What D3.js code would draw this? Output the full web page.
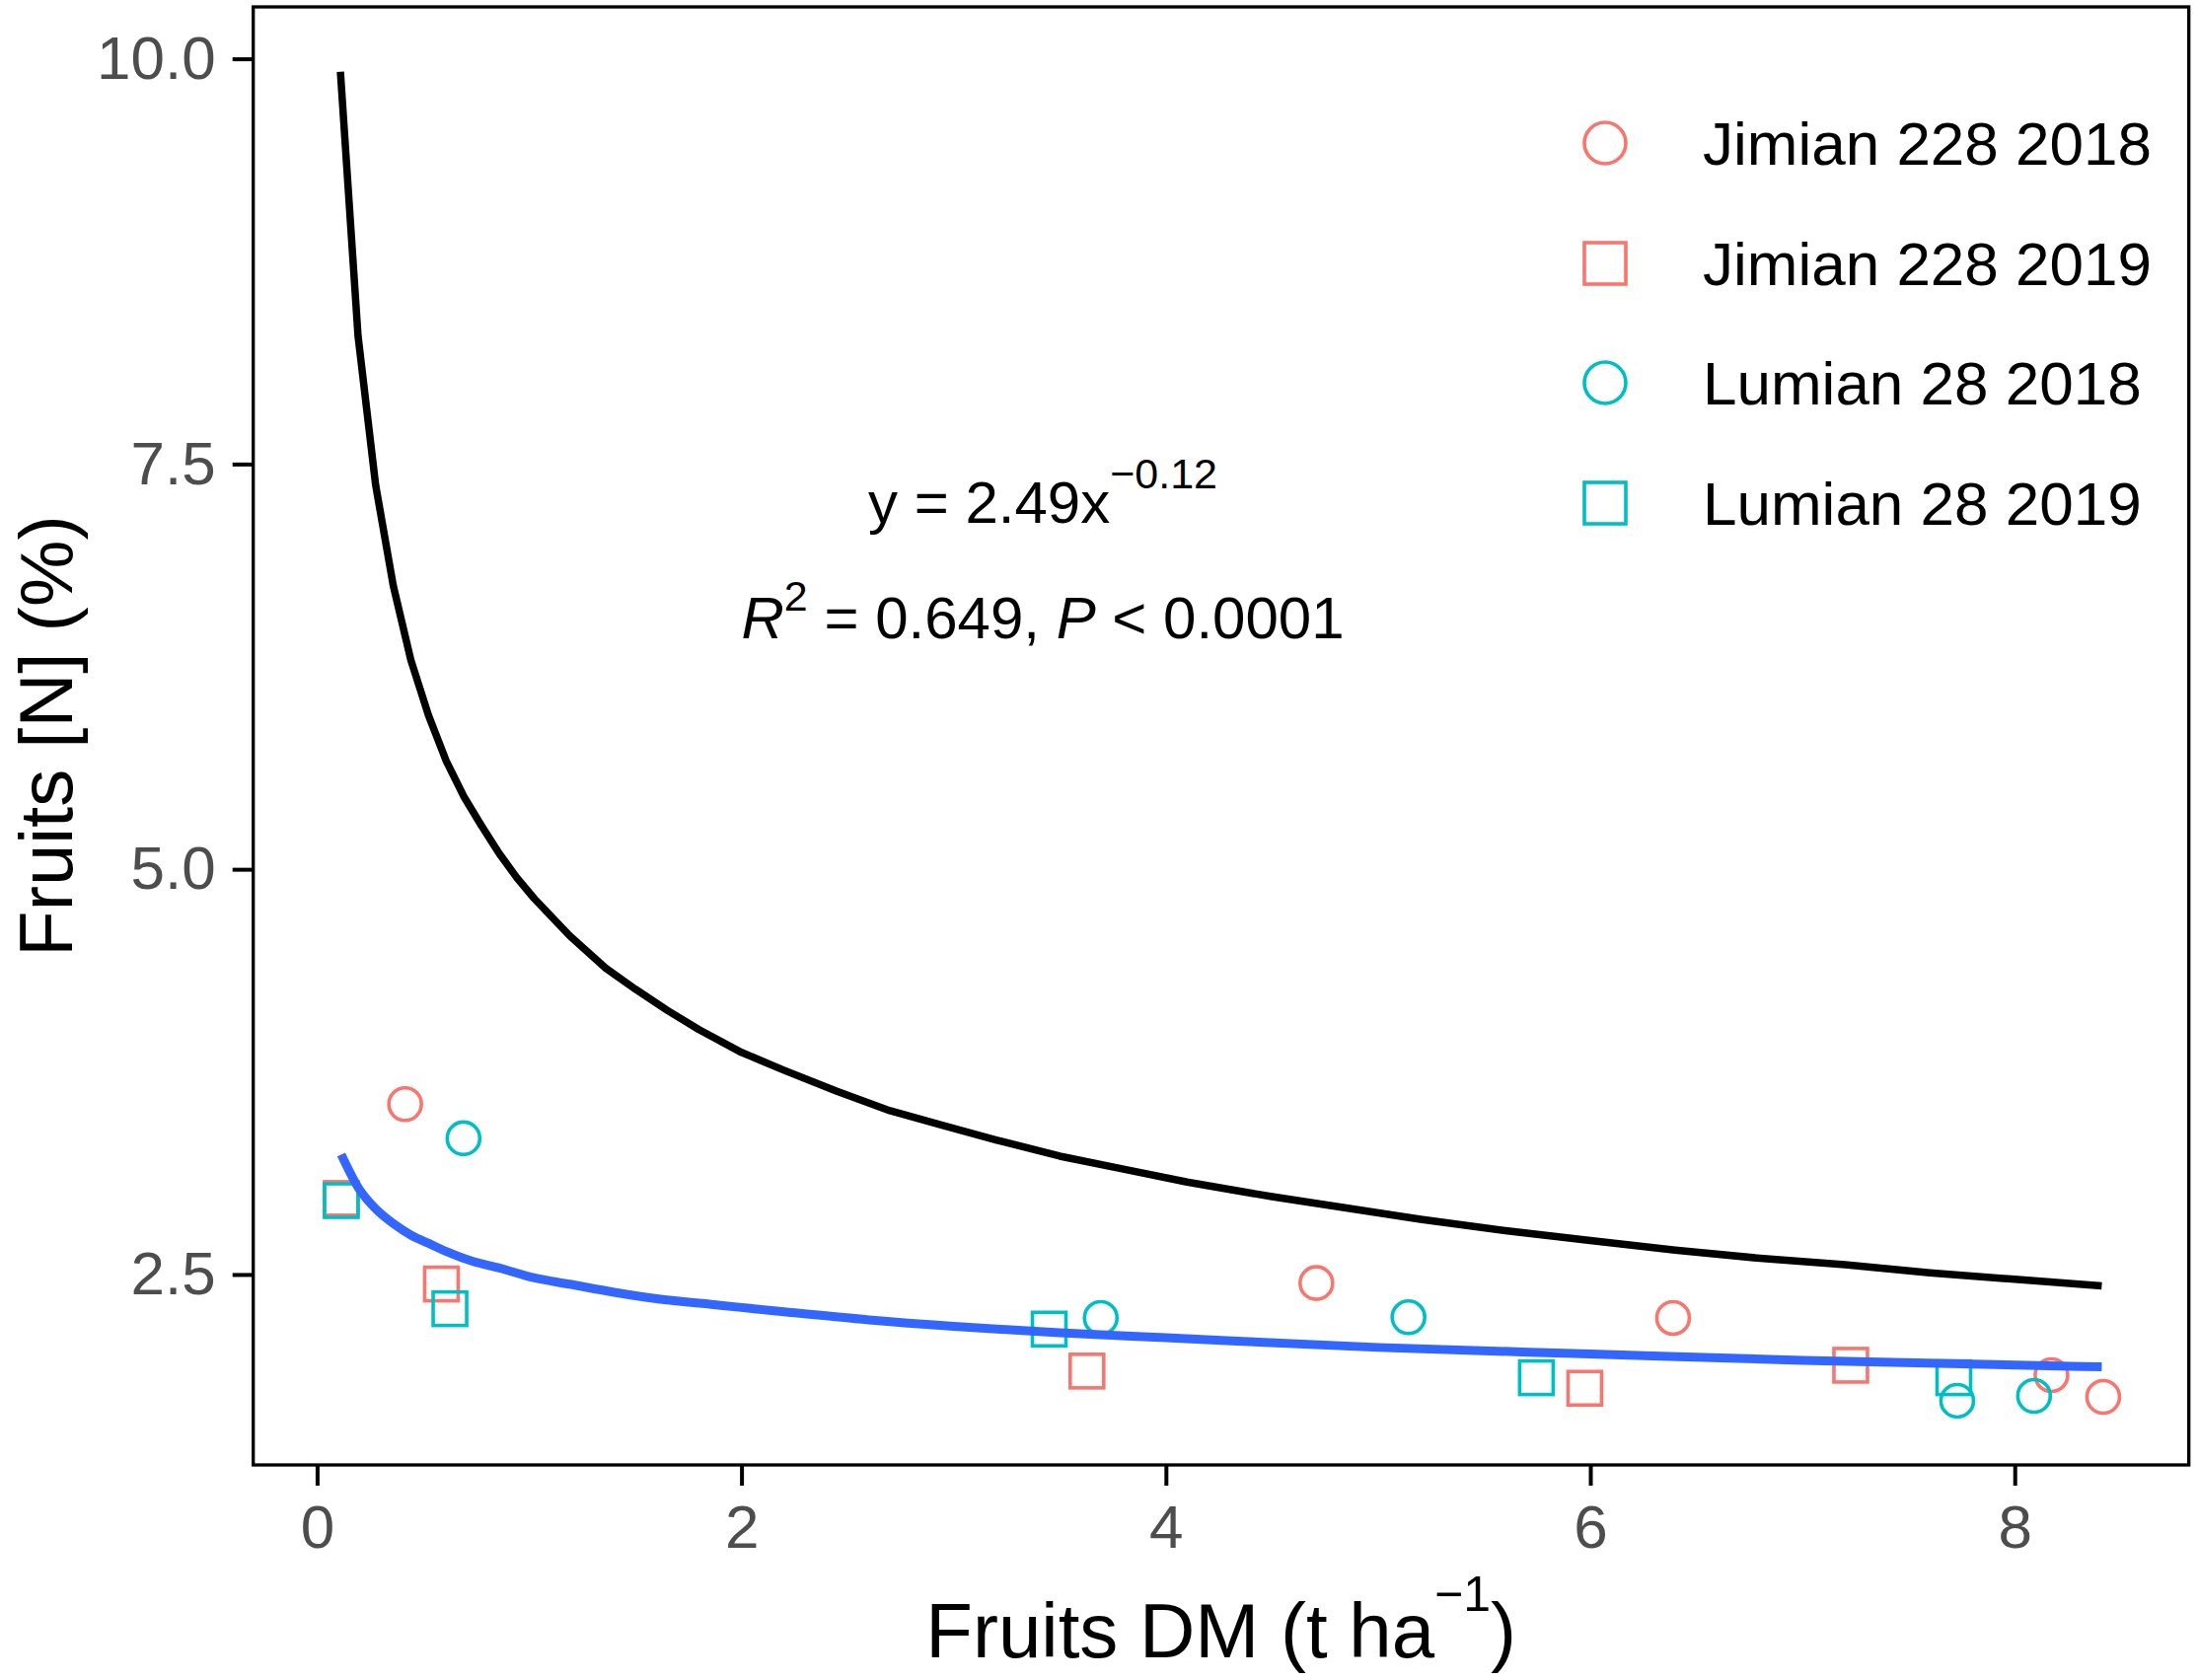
<!DOCTYPE html>
<html>
<head>
<meta charset="utf-8">
<script src="https://cdn.jsdelivr.net/npm/d3@7"></script>
<style>
  html, body { margin: 0; padding: 0; background: #fff; }
  svg { display: block; font-family: "Liberation Sans", Arial, Helvetica, sans-serif; }
</style>
</head>
<body>
<svg id="chart" width="2228" height="1703"></svg>
<script>
// ---------- data ----------
const seriesNames = ["Jimian 228 2018", "Jimian 228 2019", "Lumian 28 2018", "Lumian 28 2019"];
const seriesColors = ["#F8766D", "#F8766D", "#00BFC4", "#00BFC4"];
const seriesShapes = ["circle", "square", "circle", "square"];

const jimian2018X = [0.415, 4.709, 6.390, 8.173, 8.417];
const jimian2018Y = [3.551, 2.447, 2.232, 1.879, 1.745];
const jimian2019X = [0.114, 0.586, 3.628, 5.974, 7.227];
const jimian2019Y = [2.969, 2.441, 1.904, 1.798, 1.940];
const lumian2018X = [0.690, 3.693, 5.143, 7.729, 8.091];
const lumian2018Y = [3.340, 2.232, 2.236, 1.721, 1.751];
const lumian2019X = [0.114, 0.626, 3.450, 5.746, 7.713];
const lumian2019Y = [2.956, 2.289, 2.163, 1.863, 1.863];

// black reference curve
const blackCurveX = [0.110, 0.193, 0.276, 0.359, 0.442, 0.525, 0.608, 0.691, 0.774, 0.857, 0.94, 1.023, 1.19, 1.36, 1.5, 1.65, 1.8, 2.0, 2.2, 2.45, 2.7, 2.95, 3.2, 3.5, 3.8, 4.1, 4.5, 4.85, 5.2, 5.6, 6.0, 6.4, 6.8, 7.2, 7.6, 8.0, 8.41];
const blackCurveY = [9.92, 8.29, 7.37, 6.75, 6.29, 5.95, 5.67, 5.45, 5.27, 5.10, 4.95, 4.82, 4.59, 4.39, 4.26, 4.13, 4.01, 3.87, 3.76, 3.63, 3.51, 3.42, 3.33, 3.23, 3.15, 3.07, 2.98, 2.91, 2.84, 2.77, 2.71, 2.65, 2.60, 2.56, 2.51, 2.47, 2.43];

// blue fitted curve
const blueCurveX = [0.114, 0.197, 0.28, 0.363, 0.446, 0.529, 0.612, 0.736, 0.86, 1.02, 1.19, 1.4, 1.6, 1.9, 2.2, 2.6, 3.0, 3.5, 4.0, 5.0, 6.0, 7.0, 8.41];
const blueCurveY = [3.24, 3.03, 2.90, 2.81, 2.74, 2.69, 2.64, 2.58, 2.54, 2.48, 2.44, 2.39, 2.35, 2.31, 2.27, 2.22, 2.18, 2.14, 2.11, 2.05, 2.01, 1.97, 1.93];

const xTicks = [0, 2, 4, 6, 8];
const yTicks = [2.5, 5.0, 7.5, 10.0];
const xDomain = [-0.3008, 8.8204];
const yDomain = [1.325, 10.32];

// ---------- layout ----------
const svg = d3.select("#chart");
const panel = { left: 256.7, right: 2218.7, top: 7, bottom: 1485 };
const x = d3.scaleLinear().domain(xDomain).range([panel.left, panel.right]);
const y = d3.scaleLinear().domain(yDomain).range([panel.bottom, panel.top]);

svg.append("rect").attr("width", 2228).attr("height", 1703).attr("fill", "#fff");

svg.append("defs").append("clipPath").attr("id", "pclip")
  .append("rect").attr("x", panel.left).attr("y", panel.top)
  .attr("width", panel.right - panel.left).attr("height", panel.bottom - panel.top);

// axes
const yAxis = svg.append("g").attr("transform", `translate(${panel.left},0)`)
  .call(d3.axisLeft(y).tickValues(yTicks).tickFormat(d3.format(".1f")).tickSizeInner(21).tickSizeOuter(0).tickPadding(17));
const xAxis = svg.append("g").attr("transform", `translate(0,${panel.bottom})`)
  .call(d3.axisBottom(x).tickValues(xTicks).tickFormat(d3.format("d")).tickSizeInner(21).tickSizeOuter(0).tickPadding(19));
[yAxis, xAxis].forEach(g => {
  g.select(".domain").remove();
  g.selectAll(".tick line").attr("stroke", "#000").attr("stroke-width", 4);
  g.selectAll(".tick text").attr("fill", "#4D4D4D").style("font-size", "62px")
    .style("font-family", "'Liberation Sans', Arial, sans-serif");
});

// points
const plotG = svg.append("g").attr("clip-path", "url(#pclip)");
const allSeries = [
  { xs: jimian2018X, ys: jimian2018Y, i: 0 },
  { xs: jimian2019X, ys: jimian2019Y, i: 1 },
  { xs: lumian2018X, ys: lumian2018Y, i: 2 },
  { xs: lumian2019X, ys: lumian2019Y, i: 3 }
];
function drawShape(g, shape, cx, cy, size, color, sw) {
  if (shape === "circle") {
    g.append("circle").attr("cx", cx).attr("cy", cy).attr("r", size / 2)
      .attr("fill", "none").attr("stroke", color).attr("stroke-width", sw);
  } else {
    g.append("rect").attr("x", cx - size / 2).attr("y", cy - size / 2)
      .attr("width", size).attr("height", size)
      .attr("fill", "none").attr("stroke", color).attr("stroke-width", sw);
  }
}
allSeries.forEach(s => {
  s.xs.forEach((xv, k) => {
    drawShape(plotG, seriesShapes[s.i], x(xv), y(s.ys[k]),
      seriesShapes[s.i] === "circle" ? 33 : 34, seriesColors[s.i], 3.6);
  });
});

// curves
const lineLin = d3.line().x(d => x(d[0])).y(d => y(d[1])).curve(d3.curveLinear);
const lineSmooth = d3.line().x(d => x(d[0])).y(d => y(d[1])).curve(d3.curveMonotoneX);
plotG.append("path")
  .datum(blueCurveX.map((v, k) => [v, blueCurveY[k]]))
  .attr("d", lineSmooth).attr("fill", "none").attr("stroke", "#3366FF")
  .attr("stroke-width", 9).attr("stroke-linejoin", "round");
plotG.append("path")
  .datum(blackCurveX.map((v, k) => [v, blackCurveY[k]]))
  .attr("d", lineLin).attr("fill", "none").attr("stroke", "#000")
  .attr("stroke-width", 7.5).attr("stroke-linejoin", "round");

// panel border
svg.append("rect").attr("x", panel.left).attr("y", panel.top)
  .attr("width", panel.right - panel.left).attr("height", panel.bottom - panel.top)
  .attr("fill", "none").attr("stroke", "#000").attr("stroke-width", 3.3);

// annotation
const annX = x(3.42);
const t1 = svg.append("text").attr("x", annX).attr("y", 530)
  .attr("text-anchor", "middle").style("font-size", "60px").attr("fill", "#000");
t1.append("tspan").text("y = 2.49x");
t1.append("tspan").attr("dy", -35).style("font-size", "43px").text("\u22120.12");

const t2 = svg.append("text").attr("x", annX).attr("y", 647)
  .attr("text-anchor", "middle").style("font-size", "60px").attr("fill", "#000");
t2.append("tspan").style("font-style", "italic").text("R");
t2.append("tspan").attr("dy", -28).style("font-size", "43px").text("2");
t2.append("tspan").attr("dy", 28).text(" = 0.649, ");
t2.append("tspan").style("font-style", "italic").text("P");
t2.append("tspan").text(" < 0.0001");

// axis titles
const xt = svg.append("text").attr("x", (panel.left + panel.right) / 2).attr("y", 1680)
  .attr("text-anchor", "middle").style("font-size", "78px").attr("fill", "#000");
xt.append("tspan").text("Fruits DM (t ha");
xt.append("tspan").attr("dy", -47).style("font-size", "50px").text("\u22121");
xt.append("tspan").attr("dy", 47).text(")");

svg.append("text")
  .attr("transform", `translate(73,${(panel.top + panel.bottom) / 2}) rotate(-90)`)
  .attr("text-anchor", "middle").style("font-size", "76px").attr("fill", "#000")
  .text("Fruits [N] (%)");

// legend
const legendY = [145, 267, 388, 510];
const legend = svg.append("g");
seriesNames.forEach((name, i) => {
  drawShape(legend, seriesShapes[i], 1627, legendY[i], 42, seriesColors[i], 3.6);
  legend.append("text").attr("x", 1726).attr("y", legendY[i]).attr("dy", "0.35em")
    .style("font-size", "62px").attr("fill", "#000").text(name);
});
</script>
</body>
</html>
